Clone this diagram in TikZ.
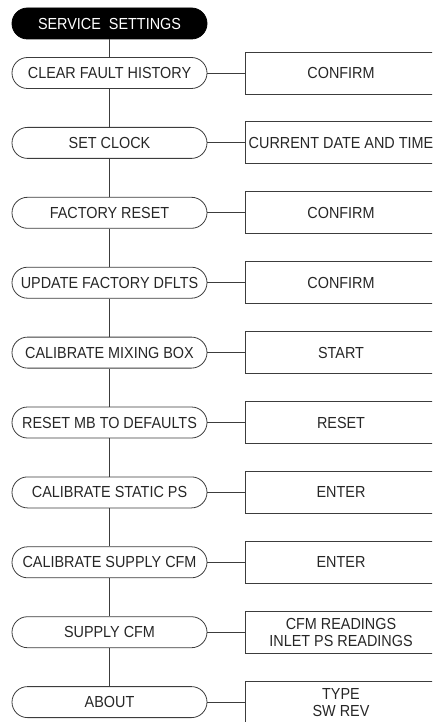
\documentclass[tikz,border=0pt]{standalone}
\usepackage{fontspec}
\setmainfont{Liberation Sans}[FakeStretch=0.9]
\definecolor{ink}{HTML}{262626}
\definecolor{rule}{HTML}{3C3C3C}

\begin{document}
\begin{tikzpicture}[x=1pt,y=-1pt,font=\fontsize{16}{17}\selectfont,
  menu/.style={draw=rule,line width=0.8pt,rounded corners=15.5pt,minimum width=195pt,minimum height=31pt,inner sep=0pt,text=ink},
  head/.style={menu,fill=black,text=white,draw=black},
  choice/.style={draw=rule,line width=0.8pt,minimum width=192pt,minimum height=42pt,inner sep=0pt,align=center,text=ink}]
  \useasboundingbox (0,0) rectangle (432,722);
  \clip (0,0) rectangle (432,722);
  % header
  \node[head] (head) at (109.5,23.5) {SERVICE\ \ SETTINGS};
  % menu items with their choices
  \foreach \item/\pick [count=\i] in {
      CLEAR FAULT HISTORY/CONFIRM,
      SET CLOCK/CURRENT DATE AND TIME,
      FACTORY RESET/CONFIRM,
      UPDATE FACTORY DFLTS/CONFIRM,
      CALIBRATE MIXING BOX/START,
      RESET MB TO DEFAULTS/RESET,
      CALIBRATE STATIC PS/ENTER,
      CALIBRATE SUPPLY CFM/ENTER,
      SUPPLY CFM/{CFM READINGS\\INLET PS READINGS},
      ABOUT/{TYPE\\SW REV}}{
    \node[menu] (m\i) at (109.5,{73+69.9*(\i-1)}) {\item};
    \node[choice] (c\i) at (341,{73+69.9*(\i-1)}) {\pick};
    \draw[rule,line width=0.8pt] (m\i) -- (c\i);
  }
  % spine
  \draw[rule,line width=0.8pt] (head) -- (m1);
  \foreach \i [evaluate=\i as \j using int(\i+1)] in {1,...,9}
    \draw[rule,line width=0.8pt] (m\i) -- (m\j);
\end{tikzpicture}
\end{document}
